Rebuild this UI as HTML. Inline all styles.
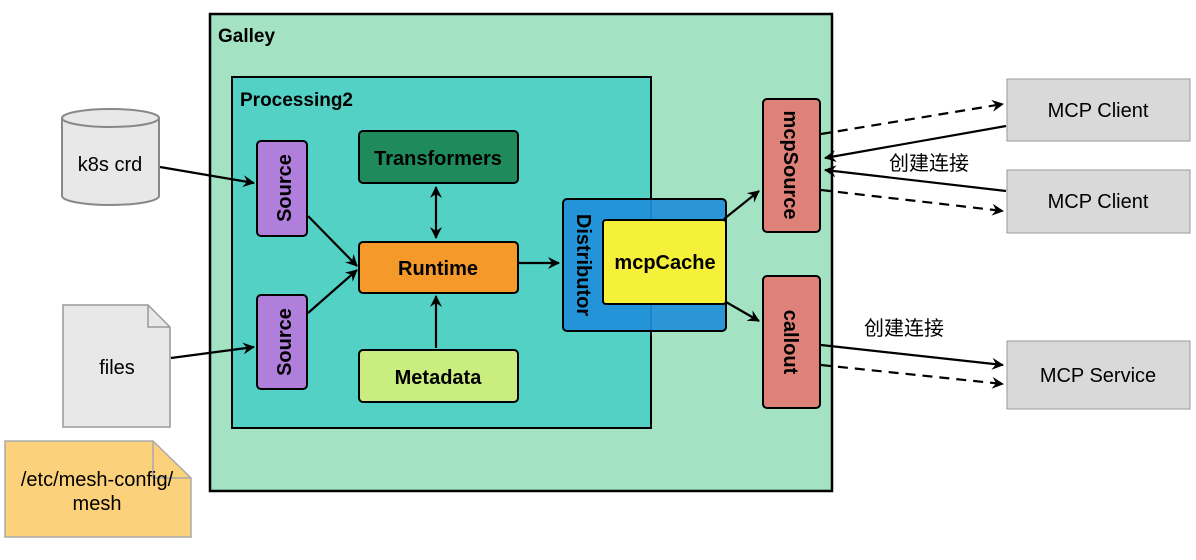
<!DOCTYPE html>
<html><head><meta charset="utf-8"><style>
body{margin:0;background:#fff}
text{font-family:"Liberation Sans","Noto Sans CJK SC",sans-serif}
.b{font-weight:bold}
</style></head><body>
<svg width="1196" height="555" viewBox="0 0 1196 555" xmlns="http://www.w3.org/2000/svg">
<defs>
<marker id="a" viewBox="0 0 12 12" refX="11" refY="6" markerWidth="12" markerHeight="12" markerUnits="userSpaceOnUse" orient="auto-start-reverse">
<path d="M0,0 L12,6 L0,12 L4,6 Z" fill="#000"/></marker>
</defs>
<rect x="210" y="14" width="622" height="477" fill="#a3e3c4" stroke="#000" stroke-width="2.5"/>
<text x="218" y="42" class="b" font-size="19">Galley</text>
<rect x="232" y="77" width="419" height="351" fill="#53d1c5" stroke="#000" stroke-width="2"/>
<text x="240" y="106" class="b" font-size="19">Processing2</text>
<rect x="257" y="141" width="50" height="95" rx="4" fill="#b07fdb" stroke="#000" stroke-width="2"/>
<text transform="translate(291,188) rotate(-90)" text-anchor="middle" class="b" font-size="20">Source</text>
<rect x="257" y="295" width="50" height="94" rx="4" fill="#b07fdb" stroke="#000" stroke-width="2"/>
<text transform="translate(291,342) rotate(-90)" text-anchor="middle" class="b" font-size="20">Source</text>
<rect x="359" y="131" width="159" height="52" rx="4" fill="#1f8a5c" stroke="#000" stroke-width="2"/>
<text x="438" y="165" text-anchor="middle" class="b" font-size="20">Transformers</text>
<rect x="359" y="242" width="159" height="51" rx="4" fill="#f59a2a" stroke="#000" stroke-width="2"/>
<text x="438" y="275" text-anchor="middle" class="b" font-size="20">Runtime</text>
<rect x="359" y="350" width="159" height="52" rx="4" fill="#c9ed7e" stroke="#000" stroke-width="2"/>
<text x="438" y="384" text-anchor="middle" class="b" font-size="20">Metadata</text>
<rect x="563" y="199" width="163" height="132" rx="4" fill="#1f8ed8" fill-opacity="0.92" stroke="#000" stroke-width="2"/>
<text transform="translate(577,265) rotate(90)" text-anchor="middle" class="b" font-size="20">Distributor</text>
<rect x="603" y="220" width="123" height="84" rx="3" fill="#f5f03a" stroke="#000" stroke-width="2"/>
<text x="665" y="269" text-anchor="middle" class="b" font-size="20">mcpCache</text>
<rect x="763" y="99" width="57" height="133" rx="4" fill="#de8279" stroke="#000" stroke-width="2"/>
<text transform="translate(784,165) rotate(90)" text-anchor="middle" class="b" font-size="20">mcpSource</text>
<rect x="763" y="276" width="57" height="132" rx="4" fill="#de8279" stroke="#000" stroke-width="2"/>
<text transform="translate(784,342) rotate(90)" text-anchor="middle" class="b" font-size="20">callout</text>
<path d="M62,118 V196 A48.5,9 0 0 0 159,196 V118" fill="#e8e8e8" stroke="#888" stroke-width="2"/>
<ellipse cx="110.5" cy="118" rx="48.5" ry="9" fill="#e8e8e8" stroke="#888" stroke-width="2"/>
<text x="110" y="171" text-anchor="middle" font-size="20">k8s crd</text>
<path d="M63,305 H148 L170,327 V427 H63 Z" fill="#e8e8e8" stroke="#999" stroke-width="1.5"/>
<path d="M148,305 V327 H170" fill="none" stroke="#999" stroke-width="1.5"/>
<text x="117" y="374" text-anchor="middle" font-size="20">files</text>
<path d="M5,441 H153 L191,478 V537 H5 Z" fill="#fbd27b" stroke="#aaa" stroke-width="1.5"/>
<path d="M153,441 V478 H191" fill="none" stroke="#aaa" stroke-width="1.5"/>
<text x="97" y="486" text-anchor="middle" font-size="20">/etc/mesh-config/</text>
<text x="97" y="510" text-anchor="middle" font-size="20">mesh</text>
<rect x="1007" y="79" width="183" height="62" fill="#d9d9d9" stroke="#999"/>
<text x="1098" y="117" text-anchor="middle" font-size="20">MCP Client</text>
<rect x="1007" y="170" width="183" height="63" fill="#d9d9d9" stroke="#999"/>
<text x="1098" y="208" text-anchor="middle" font-size="20">MCP Client</text>
<rect x="1007" y="341" width="183" height="68" fill="#d9d9d9" stroke="#999"/>
<text x="1098" y="382" text-anchor="middle" font-size="20">MCP Service</text>
<text x="929" y="170" text-anchor="middle" font-size="20">创建连接</text>
<text x="904" y="335" text-anchor="middle" font-size="20">创建连接</text>
<g stroke="#000" stroke-width="2.2" fill="none">
<line x1="160" y1="167" x2="254" y2="183" marker-end="url(#a)"/>
<line x1="171" y1="358" x2="254" y2="347" marker-end="url(#a)"/>
<line x1="308" y1="216" x2="357" y2="266" marker-end="url(#a)"/>
<line x1="308" y1="313" x2="357" y2="270" marker-end="url(#a)"/>
<line x1="436" y1="187" x2="436" y2="238" marker-start="url(#a)" marker-end="url(#a)"/>
<line x1="436" y1="348" x2="436" y2="296" marker-end="url(#a)"/>
<line x1="519" y1="263" x2="559" y2="263" marker-end="url(#a)"/>
<line x1="724" y1="219" x2="759" y2="191" marker-end="url(#a)"/>
<line x1="726" y1="302" x2="759" y2="321" marker-end="url(#a)"/>
<line x1="1006" y1="126" x2="825" y2="158" marker-end="url(#a)"/>
<line x1="1006" y1="191" x2="825" y2="170" marker-end="url(#a)"/>
<line x1="821" y1="345" x2="1003" y2="365" marker-end="url(#a)"/>
<g stroke-dasharray="10,7">
<line x1="821" y1="134" x2="1003" y2="104" marker-end="url(#a)"/>
<line x1="821" y1="190" x2="1003" y2="211" marker-end="url(#a)"/>
<line x1="821" y1="365" x2="1003" y2="384" marker-end="url(#a)"/>
</g>
</g>
</svg>
</body></html>
